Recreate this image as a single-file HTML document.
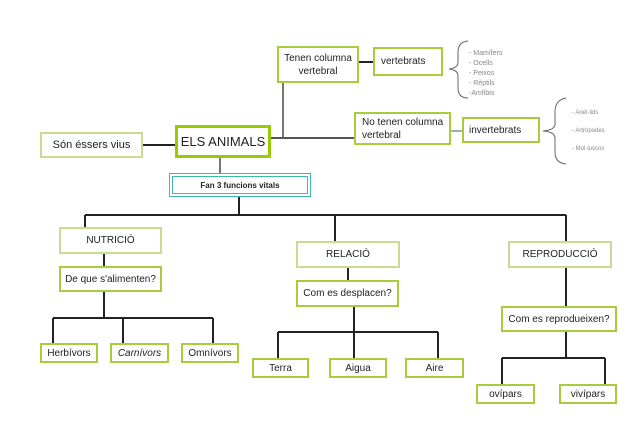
<!DOCTYPE html>
<html><head><meta charset="utf-8"><style>
body{margin:0;width:640px;height:443px;background:#fff;position:relative;overflow:hidden;font-family:"Liberation Sans",sans-serif;color:#222}
.b{position:absolute;box-sizing:border-box;border:2px solid #a8cc3c;background:#fff;display:flex;align-items:center;justify-content:center;text-align:center;font-size:10px;line-height:13px}
.l{border-color:#c8dc90}
.t{position:absolute;font-size:7px;color:#888;line-height:10px}
svg{position:absolute;left:0;top:0}
</style></head><body>
<svg width="640" height="443">
<g stroke="#222" stroke-width="2" fill="none">
<line x1="359" y1="62" x2="373" y2="62"/>
<line x1="283" y1="83" x2="283" y2="138" stroke="#777"/>
<line x1="271" y1="138" x2="354" y2="138" stroke="#555"/>
<line x1="451" y1="131" x2="462" y2="131" stroke="#aaa"/>
<line x1="143" y1="145" x2="175" y2="145"/>
<line x1="220" y1="158" x2="220" y2="174" stroke="#777"/>
<line x1="239" y1="197" x2="239" y2="215"/>
<line x1="85" y1="215" x2="566" y2="215"/>
<line x1="85" y1="215" x2="85" y2="228"/>
<line x1="335" y1="215" x2="335" y2="241"/>
<line x1="566" y1="215" x2="566" y2="241"/>
<line x1="104" y1="254" x2="104" y2="266"/>
<line x1="104" y1="292" x2="104" y2="318"/>
<line x1="53" y1="318" x2="213" y2="318"/>
<line x1="53" y1="318" x2="53" y2="343"/>
<line x1="123" y1="318" x2="123" y2="343"/>
<line x1="213" y1="318" x2="213" y2="343"/>
<line x1="348" y1="268" x2="348" y2="280"/>
<line x1="354" y1="307" x2="354" y2="358"/>
<line x1="278" y1="332" x2="438" y2="332"/>
<line x1="278" y1="332" x2="278" y2="358"/>
<line x1="438" y1="332" x2="438" y2="358"/>
<line x1="566" y1="268" x2="566" y2="306"/>
<line x1="566" y1="332" x2="566" y2="358"/>
<line x1="502" y1="358" x2="605" y2="358"/>
<line x1="502" y1="358" x2="502" y2="384"/>
<line x1="605" y1="358" x2="605" y2="384"/>
</g>
<g stroke="#666" stroke-width="1" fill="none">
<path d="M468 41 Q458 42 458 52 L458 62 Q458 68 449 69 Q458 70 458 76 L458 88 Q458 98 468 98"/>
<path d="M566 98 Q555 100 555 112 L555 124 Q555 130 543 131 Q555 132 555 138 L555 152 Q555 163 566 164"/>
</g>
</svg>
<div class="b" style="left:277px;top:46px;width:82px;height:37px">Tenen columna<br>vertebral</div>
<div class="b" style="left:373px;top:47px;width:70px;height:29px;justify-content:flex-start;padding-left:6px">vertebrats</div>
<div class="t" style="left:469px;top:49px">- Mamífers<br>- Ocells<br>- Peixos<br>- Rèptils<br>-Amfibis</div>
<div class="b" style="left:354px;top:112px;width:97px;height:33px;justify-content:flex-start;text-align:left;padding-left:6px">No tenen columna<br>vertebral</div>
<div class="b" style="left:462px;top:117px;width:78px;height:26px;justify-content:flex-start;padding-left:5px">invertebrats</div>
<div class="t" style="left:572px;top:108px;font-size:6px">- Anèl·lids</div>
<div class="t" style="left:572px;top:126px;font-size:6px">- Artròpodes</div>
<div class="t" style="left:572px;top:144px;font-size:6px">- Mol·luscos</div>
<div class="b" style="left:175px;top:125px;width:96px;height:33px;border-width:3px;border-color:#99cc00;font-size:13px">ELS ANIMALS</div>
<div class="b l" style="left:40px;top:132px;width:103px;height:26px;font-size:11px">Són éssers vius</div>
<div class="b" style="left:169px;top:173px;width:142px;height:24px;border:4px double #3cb8b0;font-size:8px;font-weight:bold">Fan 3 funcions vitals</div>
<div class="b l" style="left:59px;top:227px;width:103px;height:27px">NUTRICIÓ</div>
<div class="b" style="left:59px;top:266px;width:103px;height:26px">De que s'alimenten?</div>
<div class="b" style="left:40px;top:343px;width:58px;height:20px">Herbívors</div>
<div class="b" style="left:110px;top:343px;width:59px;height:20px;font-style:italic">Carnívors</div>
<div class="b" style="left:181px;top:343px;width:58px;height:20px">Omnívors</div>
<div class="b l" style="left:296px;top:241px;width:104px;height:27px">RELACIÓ</div>
<div class="b" style="left:296px;top:280px;width:103px;height:27px">Com es desplacen?</div>
<div class="b" style="left:252px;top:358px;width:57px;height:20px">Terra</div>
<div class="b" style="left:329px;top:358px;width:58px;height:20px">Aigua</div>
<div class="b" style="left:405px;top:358px;width:59px;height:20px">Aire</div>
<div class="b l" style="left:508px;top:241px;width:104px;height:27px">REPRODUCCIÓ</div>
<div class="b" style="left:501px;top:306px;width:116px;height:26px">Com es reprodueixen?</div>
<div class="b" style="left:476px;top:384px;width:59px;height:20px">ovípars</div>
<div class="b" style="left:559px;top:384px;width:58px;height:20px">vivípars</div>
</body></html>
